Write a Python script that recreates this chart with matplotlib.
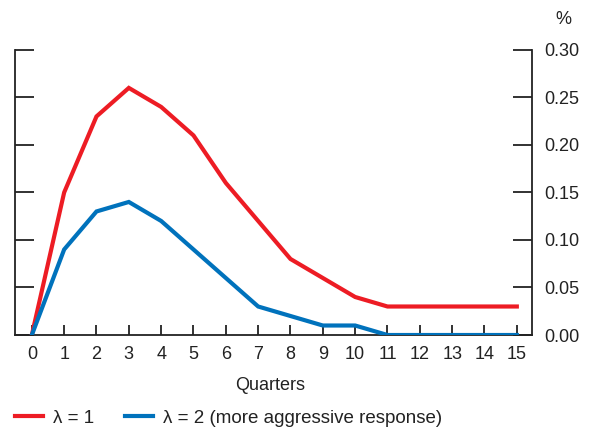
import numpy as np
import matplotlib.pyplot as plt

plt.rcParams['font.family'] = ['Liberation Sans', 'DejaVu Sans']

# Quarters after the shock
quarters = list(range(16))
# Response with lambda = 1 (per cent)
lam1 = [0.0, 0.15, 0.23, 0.26, 0.24, 0.21, 0.16, 0.12, 0.08, 0.06, 0.04, 0.03, 0.03, 0.03, 0.03, 0.03]
# Response with lambda = 2
lam2 = [0.0, 0.09, 0.13, 0.14, 0.12, 0.09, 0.06, 0.03, 0.02, 0.01, 0.01, 0.0, 0.0, 0.0, 0.0, 0.0]
yticks = [0.0, 0.05, 0.10, 0.15, 0.20, 0.25, 0.30]

red = '#ed1c24'
blue = '#0072bc'
ink = '#222222'
fs = 13

fig = plt.figure(figsize=(5.91, 4.32), dpi=100)
ax = fig.add_axes([0.0254, 0.2245, 0.8748, 0.66])

ax.plot(quarters, lam1, color=red, lw=3, solid_joinstyle='miter', label='λ = 1', zorder=3)
ax.plot(quarters, lam2, color=blue, lw=3, solid_joinstyle='miter',
        label='λ = 2 (more aggressive response)', zorder=3)

ax.set_xlim(-0.52, 15.47)
ax.set_ylim(0, 0.30)
ax.set_xticks(quarters)
ax.set_yticks(yticks)
ax.set_yticklabels([f'{v:.2f}' for v in yticks])

for s in ['left', 'right', 'bottom']:
    ax.spines[s].set_linewidth(1.3)
    ax.spines[s].set_color(ink)
ax.spines['top'].set_visible(False)

ax.tick_params(axis='x', direction='in', length=7, width=1.3, color=ink,
               labelsize=fs, pad=8, labelcolor=ink)
ax.tick_params(axis='y', direction='in', length=14, width=1.3, color=ink,
               left=True, right=True, labelleft=False, labelright=True,
               labelsize=fs, pad=9, labelcolor=ink)

fig.text(563 / 591, 1 - 20 / 432, '%', ha='center', va='center', fontsize=fs, color=ink)
fig.text(270 / 591, 1 - 385 / 432, 'Quarters', ha='center', va='center', fontsize=fs, color=ink)

fig.legend(loc='center left', bbox_to_anchor=(15 / 591, 1 - 418 / 432), ncol=2, frameon=False,
           fontsize=13.5, handlelength=1.5, handletextpad=0.55, columnspacing=1.6,
           borderaxespad=0, borderpad=0, labelcolor=ink)

fig.savefig('out.png', dpi=100)
